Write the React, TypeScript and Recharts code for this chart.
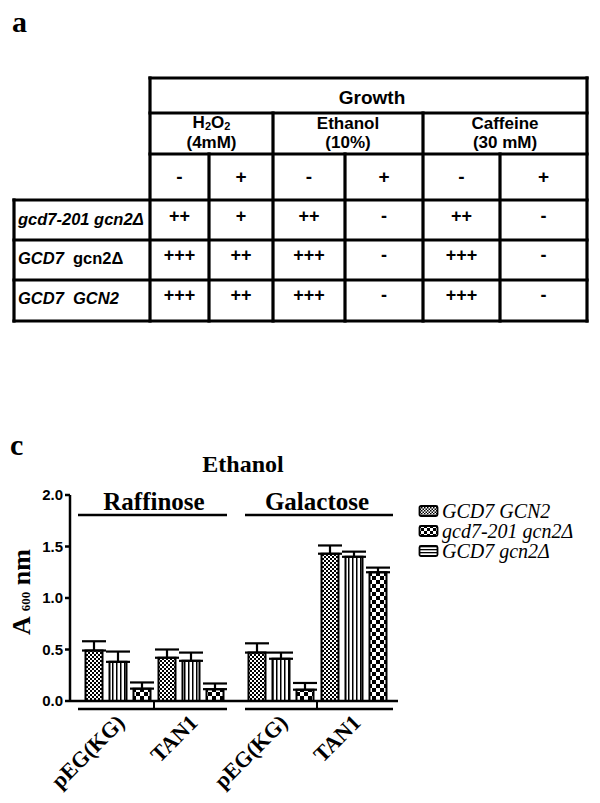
import React from 'react';
import { BarChart, Bar, XAxis, YAxis, ErrorBar, Legend } from 'recharts';

// ---- panel a: growth table ----
const stressNames = ['H2O2', 'Ethanol', 'Caffeine'];
const stressDoses = ['(4mM)', '(10%)', '(30 mM)'];
const treatments = ['-', '+', '-', '+', '-', '+'];
const strainLabels = [
  [{ t: 'gcd7-201 gcn2Δ', it: true }],
  [{ t: 'GCD7', it: true }, { t: '  gcn2Δ', it: false }],
  [{ t: 'GCD7  GCN2', it: true }],
];
const growthRows = [
  ['++', '+', '++', '-', '++', '-'],
  ['+++', '++', '+++', '-', '+++', '-'],
  ['+++', '++', '+++', '-', '+++', '-'],
];

// ---- panel c: ethanol growth ----
const vectors = ['pEG(KG)', 'TAN1'];
const raffGCN2 = [0.49, 0.42];
const raffGCN2Err = [0.09, 0.08];
const raffGcn2d = [0.38, 0.39];
const raffGcn2dErr = [0.1, 0.08];
const raff201 = [0.12, 0.115];
const raff201Err = [0.06, 0.055];
const galGCN2 = [0.47, 1.43];
const galGCN2Err = [0.09, 0.08];
const galGcn2d = [0.41, 1.4];
const galGcn2dErr = [0.06, 0.05];
const gal201 = [0.11, 1.25];
const gal201Err = [0.065, 0.045];
const yTicks = [0, 0.5, 1, 1.5, 2];
const legendOrder = ['GCD7 GCN2', 'gcd7-201 gcn2Δ', 'GCD7 gcn2Δ'];

const build = (a: number[], ae: number[], b: number[], be: number[], c: number[], ce: number[]) =>
  vectors.map((v, i) => ({
    name: v,
    wt: a[i], wtErr: [0, ae[i]],
    d: b[i], dErr: [0, be[i]],
    m: c[i], mErr: [0, ce[i]],
  }));

const raffData = build(raffGCN2, raffGCN2Err, raffGcn2d, raffGcn2dErr, raff201, raff201Err);
const galData = build(galGCN2, galGCN2Err, galGcn2d, galGcn2dErr, gal201, gal201Err);

const SANS = '"Liberation Sans", Arial, sans-serif';
const SERIF = '"Liberation Serif", "Times New Roman", serif';

const colX = [150, 209, 273, 345, 423, 500, 587];
const rowBase = [225, 264, 304];

const GrowthTable = () => {
  const line = (x1: number, y1: number, x2: number, y2: number, k: string) => (
    <line key={k} x1={x1} y1={y1} x2={x2} y2={y2} stroke="#000" strokeWidth={3.2} strokeLinecap="square" />
  );
  return (
    <svg width={600} height={330} style={{ position: 'absolute', left: 0, top: 0 }}>
      <text x={12} y={32} fontFamily={SERIF} fontWeight="bold" fontSize={30}>a</text>
      {[78, 113, 154].map((y) => line(150, y, 587, y, 'h' + y))}
      {[200, 240, 280, 321].map((y) => line(14, y, 587, y, 'h' + y))}
      {line(14, 200, 14, 321, 'v14')}
      {line(150, 78, 150, 321, 'v150')}
      {line(587, 78, 587, 321, 'v587')}
      {[273, 423].map((x) => line(x, 113, x, 321, 'v' + x))}
      {[209, 345, 500].map((x) => line(x, 154, x, 321, 'v' + x))}
      <g fontFamily={SANS} fontWeight="bold" fill="#000">
        <text x={372} y={104} fontSize={19} textAnchor="middle">Growth</text>
        {stressNames.map((s, k) => {
          const cx = (colX[2 * k] + colX[2 * k + 2]) / 2;
          return (
            <g key={s}>
              {s === 'H2O2' ? (
                <text x={cx} y={128} fontSize={17} textAnchor="middle">
                  H<tspan fontSize={11} dy={2}>2</tspan>
                  <tspan dy={-2}>O</tspan>
                  <tspan fontSize={11} dy={2}>2</tspan>
                </text>
              ) : (
                <text x={cx} y={129} fontSize={17} textAnchor="middle">{s}</text>
              )}
              <text x={cx} y={148} fontSize={17} textAnchor="middle">{stressDoses[k]}</text>
            </g>
          );
        })}
        {treatments.map((t, j) => (
          <text key={'t' + j} x={(colX[j] + colX[j + 1]) / 2} y={183} fontSize={19} textAnchor="middle">{t}</text>
        ))}
        {strainLabels.map((parts, r) => (
          <text key={'s' + r} x={18} y={rowBase[r]} fontSize={16.5} style={{ whiteSpace: 'pre' }}>
            {parts.map((p, i) => (
              <tspan key={i} fontStyle={p.it ? 'italic' : 'normal'}>{p.t}</tspan>
            ))}
          </text>
        ))}
        {growthRows.map((row, r) =>
          row.map((v, j) => (
            <text key={`g${r}-${j}`} x={(colX[j] + colX[j + 1]) / 2} y={rowBase[r] - 3} fontSize={18} textAnchor="middle">{v}</text>
          ))
        )}
      </g>
    </svg>
  );
};

const Patterns = ({ p }: { p: string }) => (
  <defs>
    <pattern id={p + 'fine'} width={4} height={4} patternUnits="userSpaceOnUse">
      <rect width={4} height={4} fill="#fff" />
      <rect width={2} height={2} fill="#000" />
      <rect x={2} y={2} width={2} height={2} fill="#000" />
    </pattern>
    <pattern id={p + 'vstripe'} width={4} height={4} patternUnits="userSpaceOnUse">
      <rect width={4} height={4} fill="#fff" />
      <rect width={1.5} height={4} fill="#000" />
    </pattern>
    <pattern id={p + 'coarse'} width={8} height={8} patternUnits="userSpaceOnUse">
      <rect width={8} height={8} fill="#000" />
      <rect width={4} height={4} fill="#fff" />
      <rect x={4} y={4} width={4} height={4} fill="#fff" />
    </pattern>
  </defs>
);

const LabelTick = (props: any) => {
  const { x, y, payload } = props;
  const tx = x + 8;
  const ty = y + 23;
  return (
    <text x={tx} y={ty} transform={`rotate(-45, ${tx}, ${ty})`} textAnchor="end"
      fontFamily={SERIF} fontWeight="bold" fontSize={22} fill="#000">
      {payload.value}
    </text>
  );
};

const legendFill: Record<string, string> = {
  'GCD7 GCN2': 'url(#lgfine)',
  'gcd7-201 gcn2Δ': 'url(#lgcoarse)',
  'GCD7 gcn2Δ': 'url(#lghstripe)',
};

const renderLegend = () => (
  <svg width={182} height={72}>
    <defs>
      <pattern id="lgfine" width={3} height={3} patternUnits="userSpaceOnUse">
        <rect width={3} height={3} fill="#fff" />
        <rect width={1.5} height={1.5} fill="#000" />
        <rect x={1.5} y={1.5} width={1.5} height={1.5} fill="#000" />
      </pattern>
      <pattern id="lgcoarse" width={6} height={6} patternUnits="userSpaceOnUse">
        <rect width={6} height={6} fill="#000" />
        <rect width={3} height={3} fill="#fff" />
        <rect x={3} y={3} width={3} height={3} fill="#fff" />
      </pattern>
      <pattern id="lghstripe" width={4} height={3} patternUnits="userSpaceOnUse">
        <rect width={4} height={3} fill="#fff" />
        <rect width={4} height={1.3} fill="#000" />
      </pattern>
    </defs>
    {legendOrder.map((n, i) => {
      const base = 20 + i * 20;
      return (
        <g key={n}>
          <rect x={1.5} y={base - 12} width={18} height={10} rx={1.5} fill={legendFill[n]} stroke="#000" strokeWidth={1.8} />
          <text x={24} y={base} fontFamily={SERIF} fontStyle="italic" fontSize={20} fill="#000">{n}</text>
        </g>
      );
    })}
  </svg>
);

const axisStroke = { stroke: '#000', strokeWidth: 2.5 };

const SugarBars = ({ p }: { p: string }) => [
  <Bar key="wt" dataKey="wt" name="GCD7 GCN2" fill={`url(#${p}fine)`} stroke="#000" strokeWidth={2} barSize={17} isAnimationActive={false}>
    <ErrorBar dataKey="wtErr" width={12} strokeWidth={2.2} stroke="#000" direction="y" />
  </Bar>,
  <Bar key="d" dataKey="d" name="GCD7 gcn2Δ" fill={`url(#${p}vstripe)`} stroke="#000" strokeWidth={2} barSize={17} isAnimationActive={false}>
    <ErrorBar dataKey="dErr" width={12} strokeWidth={2.2} stroke="#000" direction="y" />
  </Bar>,
  <Bar key="m" dataKey="m" name="gcd7-201 gcn2Δ" fill={`url(#${p}coarse)`} stroke="#000" strokeWidth={2} barSize={17} isAnimationActive={false}>
    <ErrorBar dataKey="mErr" width={12} strokeWidth={2.2} stroke="#000" direction="y" />
  </Bar>,
];

const EthanolChart = () => (
  <div style={{ position: 'absolute', left: 0, top: 440, width: 600, height: 363 }}>
    <div style={{ position: 'absolute', left: 0, top: 0 }}>
      <BarChart width={600} height={363} data={raffData} barGap={7}
        margin={{ top: 55, right: 364, bottom: 0, left: 0 }}>
        <Patterns p="ra" />
        <XAxis dataKey="name" axisLine={axisStroke} tickLine={false} tickSize={0} tickMargin={0}
          height={102} padding={{ left: 11.5, right: 8.5 }} interval={0} tick={<LabelTick />} />
        <YAxis domain={[0, 2]} ticks={yTicks} width={70} tickSize={5} tickMargin={2}
          axisLine={axisStroke} tickLine={axisStroke} tickFormatter={(v: number) => v.toFixed(1)}
          tick={{ fontFamily: SANS, fontWeight: 'bold', fontSize: 15, fill: '#000' }} />
        {SugarBars({ p: 'ra' })}
      </BarChart>
    </div>
    <div style={{ position: 'absolute', left: 0, top: 0 }}>
      <BarChart width={600} height={363} data={galData} barGap={7}
        margin={{ top: 55, right: 202, bottom: 0, left: 236 }}>
        <Patterns p="ga" />
        <XAxis dataKey="name" axisLine={axisStroke} tickLine={false} tickSize={0} tickMargin={0}
          height={102} padding={{ left: 8.5, right: 7.5 }} interval={0} tick={<LabelTick />} />
        <YAxis hide domain={[0, 2]} ticks={yTicks} />
        {SugarBars({ p: 'ga' })}
        <Legend layout="horizontal" verticalAlign="middle" align="center" content={renderLegend}
          wrapperStyle={{ position: 'absolute', left: 418, top: 58, width: 182, height: 72 }} />
      </BarChart>
    </div>
    <svg width={600} height={403} style={{ position: 'absolute', left: 0, top: -40, pointerEvents: 'none' }}>
      <g transform="translate(0,40)">
        <text x={10} y={15} fontFamily={SERIF} fontWeight="bold" fontSize={30}>c</text>
        <text x={243} y={32} textAnchor="middle" fontFamily={SERIF} fontWeight="bold" fontSize={24}>Ethanol</text>
        <g fontFamily={SERIF} fontWeight="bold" fontSize={25} textAnchor="middle">
          <text x={154} y={70}>Raffinose</text>
          <text x={317} y={70}>Galactose</text>
        </g>
        <g stroke="#000" strokeWidth={2.5}>
          <line x1={78} y1={75} x2={227} y2={75} />
          <line x1={245} y1={75} x2={393} y2={75} />
          <line x1={78} y1={269} x2={227} y2={269} />
          <line x1={245} y1={269} x2={393} y2={269} />
          <line x1={154} y1={261} x2={154} y2={269} strokeWidth={2} />
          <line x1={317} y1={261} x2={317} y2={269} strokeWidth={2} />
        </g>
        <text transform="translate(30,152) rotate(-90)" textAnchor="middle" fontFamily={SERIF} fontWeight="bold" fontSize={26}>
          A <tspan fontSize={13}>600</tspan> nm
        </text>
      </g>
    </svg>
  </div>
);

export default function App() {
  return (
    <div style={{ position: 'absolute', left: 0, top: 0, width: 600, height: 803, background: '#fff' }}>
      <GrowthTable />
      <EthanolChart />
    </div>
  );
}
